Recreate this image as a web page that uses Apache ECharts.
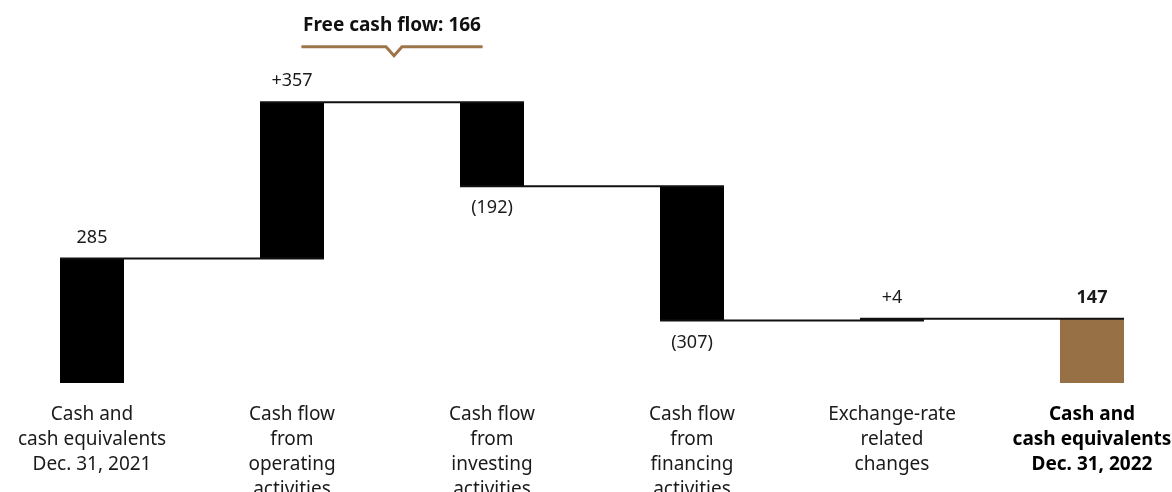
<!DOCTYPE html>
<html>
<head>
<meta charset="utf-8">
<script src="https://cdn.jsdelivr.net/npm/echarts@6/dist/echarts.min.js"></script>
<style>
  html, body { margin: 0; padding: 0; background: #fff; }
  #chart { width: 1172px; height: 492px; }
</style>
</head>
<body>
<div id="chart"></div>
<script>
// Cash flow bridge, in millions
const categories = [
  'Cash and\ncash equivalents\nDec. 31, 2021',
  'Cash flow\nfrom\noperating\nactivities',
  'Cash flow\nfrom\ninvesting\nactivities',
  'Cash flow\nfrom\nfinancing\nactivities',
  'Exchange-rate\nrelated\nchanges',
  'Cash and\ncash equivalents\nDec. 31, 2022'
];
const openingBalance = 285;
const movements = [357, -192, -307, 4];
const closingBalance = 147;
const valueLabels = ['285', '+357', '(192)', '(307)', '+4', '147'];
const freeCashFlowText = 'Free cash flow: 166';

const BLACK = '#000000';
const BRONZE = '#977046';
const FONT = '"Noto Sans", "Open Sans", sans-serif';

// Build the invisible base and the visible segment of every bar
const base = [], height = [], levels = [];
base.push(0); height.push(openingBalance); levels.push(openingBalance);
let running = openingBalance;
movements.forEach(m => {
  const next = running + m;
  base.push(Math.min(running, next));
  height.push(Math.abs(m));
  running = next;
  levels.push(running);
});
base.push(0); height.push(closingBalance);

const lastIdx = categories.length - 1;
const visible = height.map((h, i) => {
  const below = i > 0 && i < lastIdx && movements[i - 1] < 0;
  return {
    value: h,
    itemStyle: { color: i === lastIdx ? BRONZE : BLACK },
    label: {
      position: below ? 'bottom' : 'top',
      distance: below ? 13 : 12,
      fontWeight: i === lastIdx ? 'bold' : 'normal'
    }
  };
});

// Connector from bar i to bar i+1 at the running total
const connectors = levels.map((lv, i) => [i, lv]);

const chart = echarts.init(document.getElementById('chart'));
chart.setOption({
  animation: false,
  grid: { left: -8, width: 1200, top: 77, bottom: 109, containLabel: false, outerBoundsMode: 'none' },
  xAxis: {
    type: 'category',
    data: categories,
    axisLine: { show: false },
    axisTick: { show: false },
    axisLabel: {
      interval: 0,
      hideOverlap: false,
      margin: 19,
      fontFamily: FONT,
      fontSize: 19,
      lineHeight: 25,
      color: '#1a1a1a',
      formatter: (v, i) => i === lastIdx
        ? v.split('\n').map(s => '{b|' + s + '}').join('\n')
        : v,
      rich: { b: { fontWeight: 'bold', fontFamily: FONT, fontSize: 19, lineHeight: 25, color: '#000' } }
    }
  },
  yAxis: { type: 'value', min: 0, max: 700, show: false, splitLine: { show: false } },
  series: [
    {
      type: 'bar', stack: 'w', barWidth: 64, silent: true,
      itemStyle: { color: 'transparent' },
      data: base
    },
    {
      type: 'bar', stack: 'w', barWidth: 64,
      data: visible,
      label: {
        show: true,
        fontFamily: FONT,
        fontSize: 18,
        color: '#1a1a1a',
        formatter: p => valueLabels[p.dataIndex]
      }
    },
    {
      type: 'custom',
      data: connectors,
      z: 5,
      renderItem: (params, api) => {
        const i = api.value(0);
        if (i >= lastIdx) return null;
        const band = api.size([1, 0])[0];
        const half = band * 0.16;
        const p0 = api.coord([i, api.value(1)]);
        const p1 = api.coord([i + 1, api.value(1)]);
        return {
          type: 'line',
          shape: { x1: p0[0] - half, y1: p0[1], x2: p1[0] + half, y2: p1[1] },
          style: { stroke: '#111', lineWidth: 2 }
        };
      }
    },
    {
      // Bracket grouping operating and investing flows
      type: 'custom',
      data: [[1, 2, levels[1]]],
      z: 6,
      renderItem: (params, api) => {
        const a = api.coord([api.value(0), api.value(2)]);
        const b = api.coord([api.value(1), api.value(2)]);
        const band = api.size([1, 0])[0];
        const cx = (a[0] + b[0]) / 2;
        const halfW = band * 0.453;
        const y = a[1] - 55.5;
        return {
          type: 'group',
          children: [
            {
              type: 'polyline',
              shape: { points: [[cx - halfW, y], [cx - 6, y], [cx + 2, y + 9], [cx + 10, y], [cx + halfW, y]] },
              style: { stroke: '#9E7549', lineWidth: 3, fill: null, lineJoin: 'miter' }
            },
            {
              type: 'text',
              style: {
                x: cx, y: y - 21, text: freeCashFlowText,
                align: 'center', verticalAlign: 'middle',
                font: 'bold 19px ' + FONT, fill: '#111'
              }
            }
          ]
        };
      }
    }
  ]
});
</script>
</body>
</html>
